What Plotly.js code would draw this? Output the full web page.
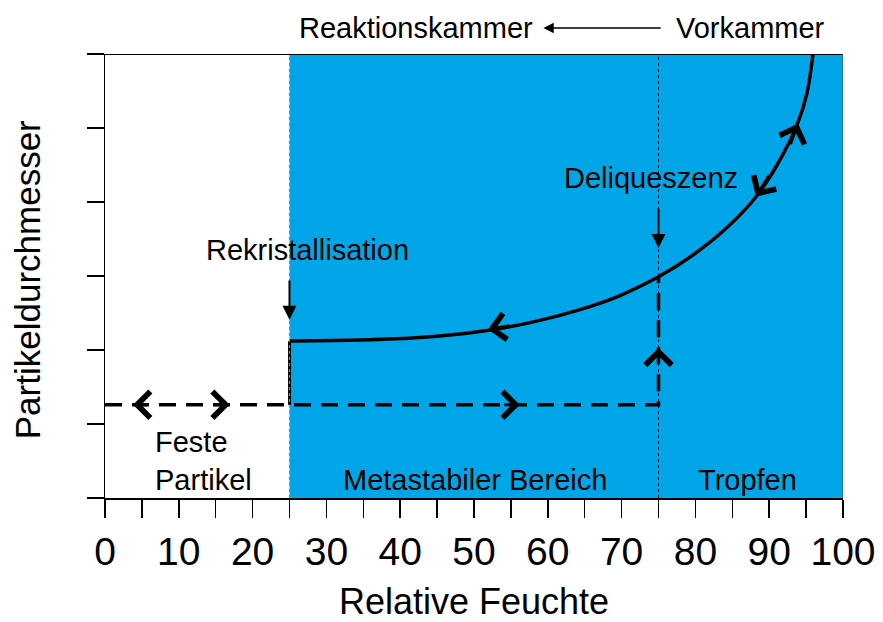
<!DOCTYPE html>
<html>
<head>
<meta charset="utf-8">
<script src="https://cdn.plot.ly/plotly-3.0.1.min.js"></script>
<style>html,body{margin:0;padding:0;background:#fff;}#chart{width:883px;height:622px;}</style>
</head>
<body>
<div id="chart"></div>
<script>
// ---- data ----
const xTickVals = [0, 5, 10, 15, 20, 25, 30, 35, 40, 45, 50, 55, 60, 65, 70, 75, 80, 85, 90, 95, 100];
const xTickText = ['0', '', '10', '', '20', '', '30', '', '40', '', '50', '', '60', '', '70', '', '80', '', '90', '', '100'];
const yTickVals = [0, 1, 2, 3, 4, 5, 6];

// phase boundaries (relative humidity, %)
const efflorescenceRH = 25;
const deliquescenceRH = 75;
const maxRH = 100;

// humidification path (dashed): solid particle -> deliquescence
const humidRH = [0, 75, 75];
const humidD = [1.26, 1.26, 3.0];

// recrystallisation jump (solid)
const recrystRH = [25, 25];
const recrystD = [1.26, 2.12];

// droplet / metastable growth curve (solid)
const curveRH = [25.07, 34.55, 42.68, 50.81, 57.59, 64.36, 69.78, 74.93, 79.67, 84.28, 88.08, 91.06, 93.77, 95.12, 95.93];
const curveD = [2.122, 2.135, 2.168, 2.249, 2.370, 2.546, 2.736, 2.986, 3.284, 3.655, 4.054, 4.5, 5.041, 5.473, 6.0];

// direction arrows: tip and tail points
const arrowTipRH = [3.8, 16.9, 56.2, 75, 51.9, 88.2, 93.9];
const arrowTipD = [1.26, 1.26, 1.26, 2.03, 2.28, 4.07, 5.06];
const arrowTailRH = [6.0, 14.6, 53.9, 75, 55.0, 90.1, 92.8];
const arrowTailD = [1.26, 1.26, 1.26, 1.80, 2.33, 4.38, 4.76];

const regionNames = ['Feste<br>Partikel', 'Metastabiler Bereich', 'Tropfen'];
const regionLabelRH = [6.5, 50.1, 87.1];

const FONT = 'Liberation Sans, Arial, Helvetica, sans-serif';
const BLUE = '#00A6E7';

const traces = [
  {x: humidRH, y: humidD, mode: 'lines', line: {color: '#000', width: 3.5, dash: '17px,10px'}, hoverinfo: 'skip'},
  {x: recrystRH, y: recrystD, mode: 'lines', line: {color: '#000', width: 3}, hoverinfo: 'skip'},
  {x: curveRH, y: curveD, mode: 'lines', line: {color: '#000', width: 3.5, shape: 'spline', smoothing: 0.8}, hoverinfo: 'skip'}
];

const annotations = [];
for (let i = 0; i < arrowTipRH.length; i++) {
  annotations.push({
    x: arrowTipRH[i], y: arrowTipD[i], xref: 'x', yref: 'y',
    ax: arrowTailRH[i], ay: arrowTailD[i], axref: 'x', ayref: 'y',
    text: '', showarrow: true, arrowhead: 4, arrowsize: 1.7, arrowwidth: 3, arrowcolor: '#000'
  });
}
// region labels
annotations.push({x: regionLabelRH[0], y: 0.5, xref: 'x', yref: 'y', text: regionNames[0], showarrow: false,
  xanchor: 'left', yanchor: 'middle', align: 'left', font: {family: FONT, size: 29, color: '#000'}});
annotations.push({x: regionLabelRH[1], y: 0.245, xref: 'x', yref: 'y', text: regionNames[1], showarrow: false,
  xanchor: 'center', yanchor: 'middle', font: {family: FONT, size: 29, color: '#000'}});
annotations.push({x: regionLabelRH[2], y: 0.245, xref: 'x', yref: 'y', text: regionNames[2], showarrow: false,
  xanchor: 'center', yanchor: 'middle', font: {family: FONT, size: 29, color: '#000'}});
// process labels
annotations.push({x: 74.0, y: 4.33, xref: 'x', yref: 'y', text: 'Deliqueszenz', showarrow: false,
  xanchor: 'center', yanchor: 'middle', font: {family: FONT, size: 29, color: '#000'}});
annotations.push({x: deliquescenceRH, y: 3.38, ax: deliquescenceRH, ay: 3.93, xref: 'x', yref: 'y', axref: 'x', ayref: 'y',
  text: '', showarrow: true, arrowhead: 2, arrowsize: 1.4, arrowwidth: 2, arrowcolor: '#000'});
annotations.push({x: 27.5, y: 3.35, xref: 'x', yref: 'y', text: 'Rekristallisation', showarrow: false,
  xanchor: 'center', yanchor: 'middle', font: {family: FONT, size: 29, color: '#000'}});
annotations.push({x: efflorescenceRH, y: 2.41, ax: efflorescenceRH, ay: 2.96, xref: 'x', yref: 'y', axref: 'x', ayref: 'y',
  text: '', showarrow: true, arrowhead: 2, arrowsize: 1.4, arrowwidth: 2, arrowcolor: '#000'});
// chamber labels above plot
annotations.push({x: 42.1, y: 1.0586, xref: 'x', yref: 'paper', text: 'Reaktionskammer', showarrow: false,
  xanchor: 'center', yanchor: 'middle', font: {family: FONT, size: 29, color: '#000'}});
annotations.push({x: 87.5, y: 1.0586, xref: 'x', yref: 'paper', text: 'Vorkammer', showarrow: false,
  xanchor: 'center', yanchor: 'middle', font: {family: FONT, size: 29, color: '#000'}});
annotations.push({x: 59.4, y: 1.0586, ax: 75.5, ay: 1.0586, xref: 'x', yref: 'paper', axref: 'x', ayref: 'paper',
  text: '', showarrow: true, arrowhead: 2, arrowsize: 1.3, arrowwidth: 1.6, arrowcolor: '#000'});
// y axis title
annotations.push({x: -0.104, y: 0.491, xref: 'paper', yref: 'paper', text: 'Partikeldurchmesser', showarrow: false,
  xanchor: 'center', yanchor: 'middle', textangle: -90, font: {family: FONT, size: 35, color: '#000'}});

const shapes = [
  {type: 'rect', xref: 'x', yref: 'y', x0: efflorescenceRH, x1: maxRH, y0: 0, y1: 6, fillcolor: BLUE, line: {width: 0}, layer: 'below'},
  {type: 'line', xref: 'x', yref: 'y', x0: efflorescenceRH, x1: efflorescenceRH, y0: 0, y1: 6, line: {color: '#8a8a8a', width: 1.2, dash: 'dot'}},
  {type: 'line', xref: 'x', yref: 'y', x0: deliquescenceRH, x1: deliquescenceRH, y0: 0, y1: 6, line: {color: '#000', width: 1, dash: 'dot'}},
  {type: 'line', xref: 'x', yref: 'y', x0: 0, x1: maxRH, y0: 6, y1: 6, line: {color: '#000', width: 2}},
  {type: 'line', xref: 'x', yref: 'y', x0: maxRH, x1: maxRH, y0: 0, y1: 6, line: {color: '#555', width: 1.2}}
];

const layout = {
  width: 883, height: 622,
  margin: {l: 105, r: 40, t: 54, b: 124},
  paper_bgcolor: '#fff', plot_bgcolor: '#fff',
  showlegend: false,
  font: {family: FONT, color: '#000'},
  xaxis: {
    range: [0, 100], tickmode: 'array', tickvals: xTickVals, ticktext: xTickText,
    ticks: 'outside', ticklen: 18, tickwidth: 1.5, tickcolor: '#000',
    showline: true, linewidth: 2, linecolor: '#000', showgrid: false, zeroline: false,
    tickfont: {family: FONT, size: 39, color: '#000'},
    title: {text: 'Relative Feuchte', font: {family: FONT, size: 36, color: '#000'}, standoff: 28},
    fixedrange: true
  },
  yaxis: {
    range: [0, 6], tickmode: 'array', tickvals: yTickVals, showticklabels: false,
    ticks: 'outside', ticklen: 17, tickwidth: 1.5, tickcolor: '#000',
    showline: true, linewidth: 1.5, linecolor: '#000', showgrid: false, zeroline: false,
    fixedrange: true
  },
  shapes: shapes,
  annotations: annotations
};

Plotly.newPlot('chart', traces, layout, {displayModeBar: false, staticPlot: true});
</script>
</body>
</html>
